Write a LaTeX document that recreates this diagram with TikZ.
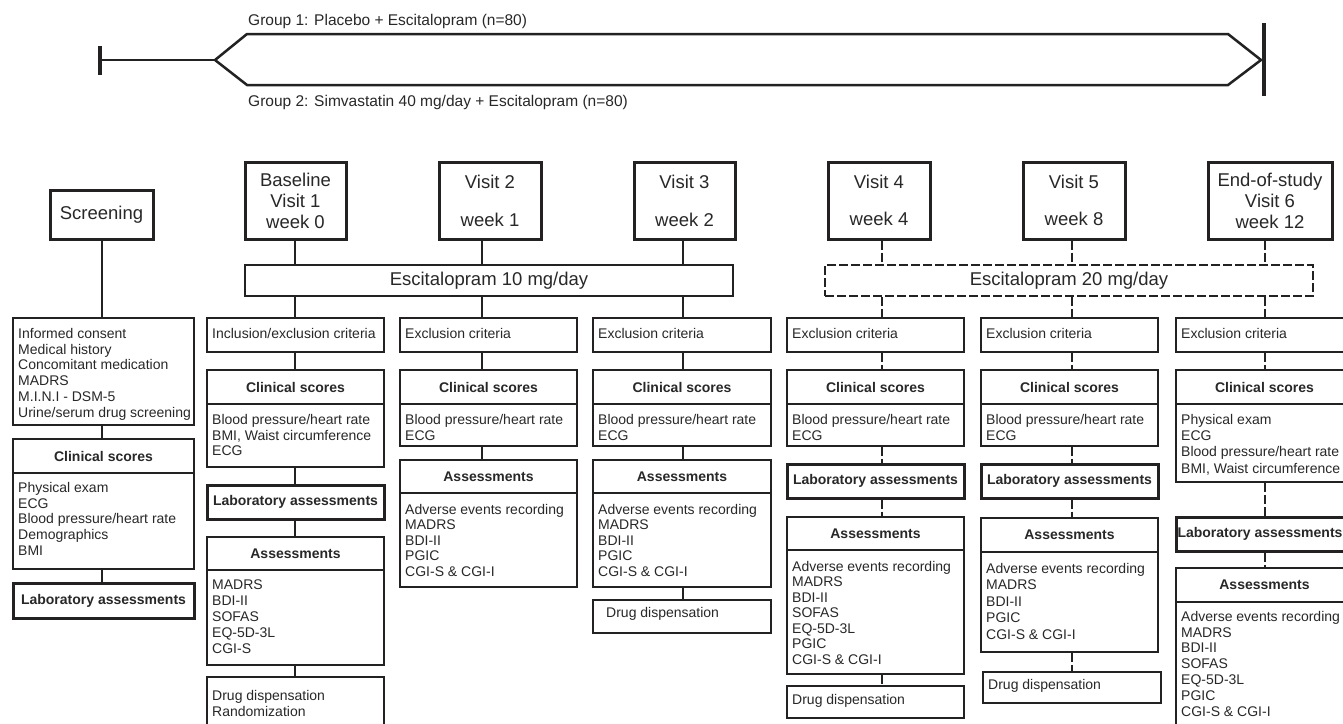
\documentclass[tikz,border=0pt]{standalone}
\usepackage{fontspec}
\setmainfont{Liberation Sans}
\usetikzlibrary{fit}
\definecolor{ink}{RGB}{35,33,34}
\definecolor{txt}{RGB}{40,40,40}
% name, x1, y1, x2, y2, box style, text style, text
\newcommand\bx[8]{\node[#6, fit={(#2,#3) (#4,#5)}] (#1) {};
  \node[#7] (#1t) at (#1.center) {#8};}
\newcommand\cn[4][]{\draw[conn,#1] (#2.south -| #4) -- (#3.north -| #4);}
\tikzset{
 thinbox/.style={draw=ink, line width=1.8pt, inner sep=0pt, fill=white},
 thickbox/.style={draw=ink, line width=3pt, inner sep=0pt, fill=white},
 none/.style={inner sep=0pt},
 hd/.style={inner sep=0pt, text=txt, font=\bfseries\fontsize{14}{16}\selectfont},
 vis/.style={inner sep=0pt, text=txt, font=\fontsize{18.5}{21}\selectfont, align=center},
 dsh/.style={dash pattern=on 9pt off 3pt},
 body/.style={anchor=north west, inner sep=0pt, align=left, font=\fontsize{14}{15.8}\selectfont, text=txt},
 one/.style={anchor=west, inner sep=0pt, font=\fontsize{14}{16}\selectfont, text=txt},
 conn/.style={draw=ink, line width=2pt},
 arr/.style={draw=ink, line width=2.5pt, line join=miter},
 barline/.style={draw=ink, line width=4.5pt},
 grp/.style={anchor=west, inner sep=0pt, font=\fontsize{15.5}{18}\selectfont, text=txt},
}
\begin{document}
\begin{tikzpicture}[x=1pt,y=-1pt]
\useasboundingbox (0,0) rectangle (1343,723);
\fill[white] (0,0) rectangle (1343,723);
\clip (0,0) rectangle (1343,723);

% ---- top timeline ----
\draw[arr] (100,60) -- (215,60);
\draw[arr] (1228,34) -- (247,34) -- (215,60) -- (247,85) -- (1228,85) -- (1261,60) -- cycle;
\draw[barline] (100,46) -- (100,75);
\draw[barline] (1264,23) -- (1264,96);
\node[grp] (g1) at (248,21) {Group 1: Placebo + Escitalopram (n=80)};
\node[grp] (g2) at (248,102) {Group 2: Simvastatin 40 mg/day + Escitalopram (n=80)};

% ---- connector x positions ----
\coordinate (xs) at (102,0);
\coordinate (x1) at (295,0);
\coordinate (x2) at (482,0);
\coordinate (x3) at (683,0);
\coordinate (x4) at (882,0);
\coordinate (x5) at (1072,0);
\coordinate (x6) at (1265,0);

% ---- Screening ----
\bx{scr}{50}{190}{153}{239}{thickbox}{vis}{Screening}
\bx{scrA}{13}{318}{194}{425}{thinbox}{none}{}
\bx{scrCh}{13}{439}{194}{473}{thinbox}{hd}{Clinical scores}
\bx{scrCb}{13}{473}{194}{569}{thinbox}{none}{}
\bx{scrL}{13}{583}{194}{618}{thickbox}{hd}{Laboratory assessments}
\node[body] (scrAt2) at (18,328) {Informed consent\\Medical history\\Concomitant medication\\MADRS\\M.I.N.I - DSM-5\\Urine/serum drug screening};
\node[body] (scrCt2) at (18,482) {Physical exam\\ECG\\Blood pressure/heart rate\\Demographics\\BMI};
\cn{scr}{scrA}{xs}
\cn{scrA}{scrCh}{xs}
\cn{scrCb}{scrL}{xs}

% ---- Baseline ----
\bx{bas}{245}{162}{346}{239}{thickbox}{vis}{Baseline\\Visit 1\\week 0}
\bx{esc10}{245}{265}{733}{296}{thinbox}{vis}{Escitalopram 10 mg/day}
\bx{basE}{207}{318}{384}{352}{thinbox}{none}{}
\bx{basCh}{207}{370}{384}{404}{thinbox}{hd}{Clinical scores}
\bx{basCb}{207}{404}{384}{467}{thinbox}{none}{}
\bx{basL}{207}{485}{384}{519}{thickbox}{hd}{Laboratory assessments}
\bx{basAh}{207}{537}{384}{570}{thinbox}{hd}{Assessments}
\bx{basAb}{207}{570}{384}{665}{thinbox}{none}{}
\bx{basD}{207}{677}{384}{730}{thinbox}{none}{}
\node[one] (basEt2) at (212,333) {Inclusion/exclusion criteria};
\node[body] (basCt2) at (212,414) {Blood pressure/heart rate\\BMI, Waist circumference\\ECG};
\node[body] (basAt2) at (212,580) {MADRS\\BDI-II\\SOFAS\\EQ-5D-3L\\CGI-S};
\node[body] (basDt2) at (212,690) {Drug dispensation\\Randomization};
\cn{bas}{esc10}{x1}
\cn{esc10}{basE}{x1}
\cn{basE}{basCh}{x1}
\cn{basCb}{basL}{x1}
\cn{basL}{basAh}{x1}
\cn{basAb}{basD}{x1}

% ---- Visit 2 ----
\bx{v2}{439}{162}{541}{239}{thickbox}{vis}{Visit 2\\[17pt]week 1}
\bx{v2E}{400}{318}{577}{352}{thinbox}{none}{}
\bx{v2Ch}{400}{370}{577}{404}{thinbox}{hd}{Clinical scores}
\bx{v2Cb}{400}{404}{577}{446}{thinbox}{none}{}
\bx{v2Ah}{400}{460}{577}{493}{thinbox}{hd}{Assessments}
\bx{v2Ab}{400}{493}{577}{587}{thinbox}{none}{}
\node[one] (v2Et2) at (405,333) {Exclusion criteria};
\node[body] (v2Ct2) at (405,414) {Blood pressure/heart rate\\ECG};
\node[body,font=\fontsize{14}{15.5}\selectfont] (v2At2) at (405,504) {Adverse events recording\\MADRS\\BDI-II\\PGIC\\CGI-S \& CGI-I};
\cn{v2}{esc10}{x2}
\cn{esc10}{v2E}{x2}
\cn{v2E}{v2Ch}{x2}
\cn{v2Cb}{v2Ah}{x2}

% ---- Visit 3 ----
\bx{v3}{634}{162}{735}{239}{thickbox}{vis}{Visit 3\\[17pt]week 2}
\bx{v3E}{593}{318}{771}{352}{thinbox}{none}{}
\bx{v3Ch}{593}{370}{771}{404}{thinbox}{hd}{Clinical scores}
\bx{v3Cb}{593}{404}{771}{446}{thinbox}{none}{}
\bx{v3Ah}{593}{460}{771}{493}{thinbox}{hd}{Assessments}
\bx{v3Ab}{593}{493}{771}{587}{thinbox}{none}{}
\bx{v3D}{593}{600}{771}{633}{thinbox}{none}{}
\node[one] (v3Et2) at (598,333) {Exclusion criteria};
\node[body] (v3Ct2) at (598,414) {Blood pressure/heart rate\\ECG};
\node[body,font=\fontsize{14}{15.5}\selectfont] (v3At2) at (598,504) {Adverse events recording\\MADRS\\BDI-II\\PGIC\\CGI-S \& CGI-I};
\node[one] (v3Dt2) at (606,614) {Drug dispensation};
\cn{v3}{esc10}{x3}
\cn{esc10}{v3E}{x3}
\cn{v3E}{v3Ch}{x3}
\cn{v3Cb}{v3Ah}{x3}
\cn{v3Ab}{v3D}{x3}

% ---- Visit 4 ----
\bx{v4}{828}{162}{930}{239}{thickbox}{vis}{Visit 4\\[16pt]week 4}
\bx{esc20}{825}{265}{1313}{296}{thinbox,dsh}{vis}{Escitalopram 20 mg/day}
\bx{v4E}{787}{318}{964}{352}{thinbox}{none}{}
\bx{v4Ch}{787}{370}{964}{404}{thinbox}{hd}{Clinical scores}
\bx{v4Cb}{787}{404}{964}{446}{thinbox}{none}{}
\bx{v4L}{787}{464}{964}{498}{thickbox}{hd}{Laboratory assessments}
\bx{v4Ah}{787}{517}{964}{550}{thinbox}{hd}{Assessments}
\bx{v4Ab}{787}{550}{964}{674}{thinbox}{none}{}
\bx{v4D}{787}{686}{964}{718}{thinbox}{none}{}
\node[one] (v4Et2) at (792,333) {Exclusion criteria};
\node[body] (v4Ct2) at (792,414) {Blood pressure/heart rate\\ECG};
\node[body,font=\fontsize{14}{15.5}\selectfont] (v4At2) at (792,561) {Adverse events recording\\MADRS\\BDI-II\\SOFAS\\EQ-5D-3L\\PGIC\\CGI-S \& CGI-I};
\node[one] (v4Dt2) at (792,701) {Drug dispensation};
\cn[dsh]{v4}{esc20}{x4}
\cn[dsh]{esc20}{v4E}{x4}
\cn[dsh]{v4E}{v4Ch}{x4}
\cn[dsh]{v4Cb}{v4L}{x4}
\cn[dsh]{v4L}{v4Ah}{x4}
\cn[dsh]{v4Ab}{v4D}{x4}

% ---- Visit 5 ----
\bx{v5}{1023}{162}{1125}{239}{thickbox}{vis}{Visit 5\\[16pt]week 8}
\bx{v5E}{981}{318}{1158}{352}{thinbox}{none}{}
\bx{v5Ch}{981}{370}{1158}{404}{thinbox}{hd}{Clinical scores}
\bx{v5Cb}{981}{404}{1158}{446}{thinbox}{none}{}
\bx{v5L}{981}{464}{1158}{498}{thickbox}{hd}{Laboratory assessments}
\bx{v5Ah}{981}{518}{1158}{552}{thinbox}{hd}{Assessments}
\bx{v5Ab}{981}{552}{1158}{652}{thinbox}{none}{}
\bx{v5D}{983}{672}{1161}{703}{thinbox}{none}{}
\node[one] (v5Et2) at (986,333) {Exclusion criteria};
\node[body] (v5Ct2) at (986,414) {Blood pressure/heart rate\\ECG};
\node[body,font=\fontsize{14}{16.5}\selectfont] (v5At2) at (986,563) {Adverse events recording\\MADRS\\BDI-II\\PGIC\\CGI-S \& CGI-I};
\node[one] (v5Dt2) at (988,686) {Drug dispensation};
\cn[dsh]{v5}{esc20}{x5}
\cn[dsh]{esc20}{v5E}{x5}
\cn[dsh]{v5E}{v5Ch}{x5}
\cn[dsh]{v5Cb}{v5L}{x5}
\cn[dsh]{v5L}{v5Ah}{x5}
\cn[dsh]{v5Ab}{v5D}{x5}

% ---- End of study ----
\bx{eos}{1208}{162}{1332}{239}{thickbox}{vis}{End-of-study\\Visit 6\\week 12}
\bx{eosE}{1176}{318}{1353}{352}{thinbox}{none}{}
\bx{eosCh}{1176}{370}{1353}{404}{thinbox}{hd}{Clinical scores}
\bx{eosCb}{1176}{404}{1353}{482}{thinbox}{none}{}
\bx{eosL}{1176}{517}{1353}{551}{thickbox}{hd,xshift=-4.5pt}{Laboratory assessments}
\bx{eosAh}{1176}{568}{1353}{602}{thinbox}{hd}{Assessments}
\bx{eosAb}{1176}{602}{1353}{740}{thinbox}{none}{}
\node[one] (eosEt2) at (1181,333) {Exclusion criteria};
\node[body,font=\fontsize{14}{16.3}\selectfont] (eosCt2) at (1181,414) {Physical exam\\ECG\\Blood pressure/heart rate\\BMI, Waist circumference};
\node[body] (eosAt2) at (1181,611) {Adverse events recording\\MADRS\\BDI-II\\SOFAS\\EQ-5D-3L\\PGIC\\CGI-S \& CGI-I};
\cn[dsh]{eos}{esc20}{x6}
\cn[dsh]{esc20}{eosE}{x6}
\cn[dsh]{eosE}{eosCh}{x6}
\cn[dsh]{eosCb}{eosL}{x6}
\cn[dsh]{eosL}{eosAh}{x6}
\end{tikzpicture}
\end{document}
